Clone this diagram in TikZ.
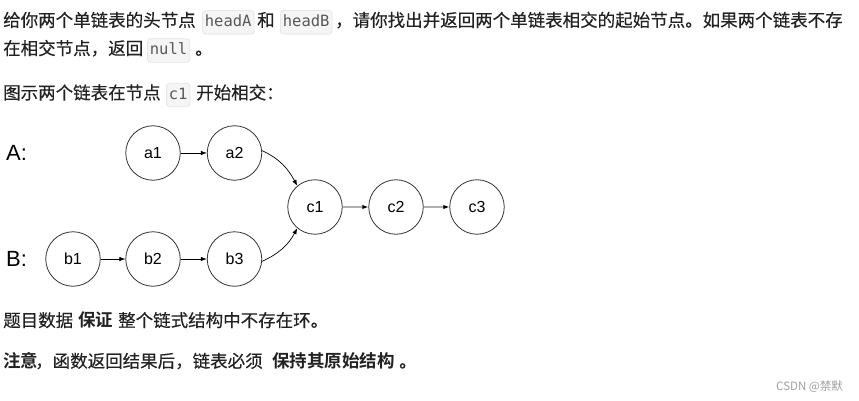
\documentclass[tikz,border=0pt]{standalone}
\usepackage{fontspec}
\setmainfont{Liberation Sans}
\newfontfamily\cjk{Noto Sans CJK SC}[RawFeature={embolden=0.3}]
\newfontfamily\cjkb{Noto Sans CJK SC Bold}
\newfontfamily\cjkw{Noto Sans CJK SC}
\newfontfamily\mono{DejaVu Sans Mono}
\newfontfamily\lab{Liberation Sans}
\usetikzlibrary{arrows.meta}
\definecolor{txtc}{HTML}{222222}
\definecolor{codetxt}{HTML}{595959}
\definecolor{codebg}{HTML}{F5F5F5}
\definecolor{codeline}{HTML}{E6E6E6}
\definecolor{circ}{HTML}{333333}
\definecolor{grayline}{HTML}{B0B0B0}
\definecolor{wm}{HTML}{A0A0A0}
\tikzset{
  txt/.style={font=\cjk\fontsize{17.5}{20}\selectfont, text=txtc, inner sep=0pt, anchor=base west},
  btxt/.style={txt, font=\cjkb\fontsize{17.5}{20}\selectfont},
  code/.style={font=\mono\fontsize{15.5}{18}\selectfont, text=codetxt, fill=codebg, draw=codeline,
    line width=0.8pt, rounded corners=3pt, inner xsep=2.5pt, inner ysep=0pt,
    text height=16pt, text depth=7.5pt, anchor=base west},
  lnode/.style={circle, draw=circ, line width=0.8pt, minimum size=54.5pt, inner sep=0pt,
    font=\lab\fontsize{16}{18}\selectfont, text=black},
  biglab/.style={font=\lab\fontsize{22}{24}\selectfont, text=black, anchor=west, inner sep=0pt},
  tip/.style={-{Latex[length=6pt,width=4.5pt]}},
  blackarrow/.style={tip, draw=black, line width=0.7pt},
  grayarrow/.style={-{Latex[length=6pt,width=4.5pt,color=black]}, draw=grayline, line width=1.6pt},
}
\begin{document}
\begin{tikzpicture}[x=1pt,y=-1pt]
\fill[white] (0,0) rectangle (859,401);
\useasboundingbox (0,0) rectangle (859,401);
% line 1
\node[txt] (l1a) at (3,26.6) {给你两个单链表的头节点};
\node[code] (l1b) at (202,26.6) {headA};
\node[txt] (l1c) at (257,26.6) {和};
\node[code] (l1d) at (280,26.6) {headB};
\node[txt] (l1e) at (335,26.6) {，请你找出并返回两个单链表相交的起始节点。如果两个链表不存};
% line 2
\node[txt] (l2a) at (3,54.8) {在相交节点，返回};
\node[code] (l2b) at (147,54.8) {null};
\node[txt] (l2c) at (195,54.8) {。};
% line 3
\node[txt] (l3a) at (3,99.2) {图示两个链表在节点};
\node[code] (l3b) at (166,99.2) {c1};
\node[txt] (l3c) at (196,99.2) {开始相交：};
% diagram
\node[biglab] (la) at (6,153) {A:};
\node[biglab] (lb) at (6,259) {B:};
\node[lnode] (a1) at (153,153) {a1};
\node[lnode] (a2) at (234.5,153) {a2};
\node[lnode] (c1) at (315,207) {c1};
\node[lnode] (c2) at (396,207) {c2};
\node[lnode] (c3) at (477,207) {c3};
\node[lnode] (b1) at (73,259) {b1};
\node[lnode] (b2) at (153,259) {b2};
\node[lnode] (b3) at (234.5,259) {b3};
\draw[blackarrow] (a1) -- (a2);
\draw[blackarrow] (b1) -- (b2);
\draw[blackarrow] (b2) -- (b3);
\draw[blackarrow] (a2.5) to[out=-25,in=118] (c1.130);
\draw[blackarrow] (b3.-5) to[out=25,in=-118] (c1.230);
\draw[grayarrow] (c1) -- (c2);
\draw[grayarrow] (c2) -- (c3);
% line 4
\node[txt] (l4a) at (3,326.8) {题目数据};
\node[btxt] (l4b) at (78,326.8) {保证};
\node[txt] (l4c) at (118,326.8) {整个链式结构中不存在环。};
% line 5
\node[btxt] (l5a) at (3,367.5) {注意};
\node[txt] (l5b) at (35,367.5) {，函数返回结果后，链表必须};
\node[btxt] (l5c) at (272,367.5) {保持其原始结构};
\node[txt] (l5d) at (399,367.5) {。};
% watermark
\node[font=\cjkw\fontsize{11.5}{13}\selectfont, text=wm, inner sep=0pt, anchor=east] (wmk) at (843,387) {CSDN @禁默};
\end{tikzpicture}
\end{document}
